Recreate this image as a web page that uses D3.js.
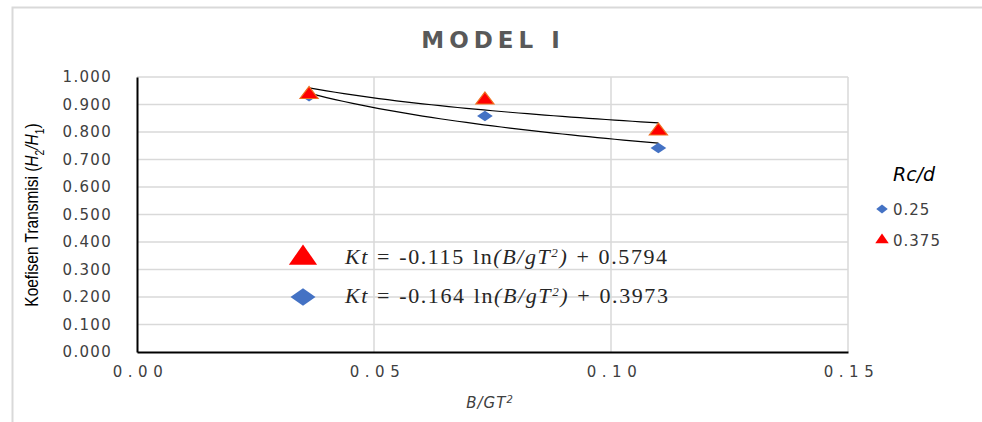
<!DOCTYPE html>
<html>
<head>
<meta charset="utf-8">
<script src="https://cdn.jsdelivr.net/npm/d3@7"></script>
<style>
  body { margin: 0; background: #fff; }
  svg text { font-family: "DejaVu Sans", Verdana, sans-serif; }
</style>
</head>
<body>
<div id="app"></div>
<script>
const xTicks = [0, 0.05, 0.10, 0.15];
const yTicks = [0, 0.1, 0.2, 0.3, 0.4, 0.5, 0.6, 0.7, 0.8, 0.9, 1.0];
const seriesNames = ['0.25', '0.375'];
const bgt = [0.0363, 0.0734, 0.1100];
const kt025 = [0.930, 0.858, 0.742];
const kt0375 = [0.940, 0.920, 0.807];
const slopes = [-0.164, -0.115];
const intercepts = [0.3973, 0.5794];
const colors = ['#4472c4', '#ff0000'];

const width = 982, height = 422;
const svg = d3.select('#app').append('svg')
  .attr('width', width).attr('height', height);

// chart border
svg.append('rect')
  .attr('x', 12.5).attr('y', 7.5).attr('width', 990).attr('height', 430)
  .attr('fill', 'none').attr('stroke', '#d9d9d9').attr('stroke-width', 2);

svg.append('text')
  .attr('x', 493).attr('y', 48)
  .attr('text-anchor', 'middle')
  .attr('fill', '#595959')
  .style('font-size', '23px').style('font-weight', 'bold').style('letter-spacing', '5px')
  .text('MODEL I');

const x = d3.scaleLinear().domain([0, 0.15]).range([137, 848]);
const y = d3.scaleLinear().domain([0, 1]).range([352, 77]);

// grid
svg.append('g').selectAll('line').data(yTicks.slice(1)).join('line')
  .attr('x1', x(0)).attr('x2', x(0.15))
  .attr('y1', d => y(d)).attr('y2', d => y(d))
  .attr('stroke', '#d9d9d9').attr('stroke-width', 1.5);
svg.append('g').selectAll('line').data(xTicks.slice(1)).join('line')
  .attr('x1', d => x(d)).attr('x2', d => x(d))
  .attr('y1', y(0)).attr('y2', y(1))
  .attr('stroke', '#d9d9d9').attr('stroke-width', 1.5);

// axes
const yAxis = d3.axisLeft(y).tickValues(yTicks).tickFormat(d3.format('.3f')).tickSize(0).tickPadding(25);
const gy = svg.append('g').attr('transform', `translate(${x(0)},0)`).call(yAxis);
gy.select('.domain').attr('stroke', '#000').attr('stroke-width', 2);
gy.selectAll('text').attr('fill', '#404040').style('font-size', '15px').style('letter-spacing', '1.3px');

const xAxis = d3.axisBottom(x).tickValues(xTicks).tickFormat(d3.format('.2f')).tickSize(0).tickPadding(14);
const gx = svg.append('g').attr('transform', `translate(0,${y(0)})`).call(xAxis);
gx.select('.domain').attr('stroke', '#000').attr('stroke-width', 2);
gx.selectAll('text').attr('fill', '#404040').style('font-size', '15px').style('letter-spacing', '5.5px')
  .attr('dx', '3px');

// axis titles
const yl = svg.append('text')
  .attr('transform', 'translate(38,215) rotate(-90) scale(0.86,1)')
  .attr('text-anchor', 'middle')
  .style('font-family', '"Liberation Sans", Arial, sans-serif')
  .style('font-size', '18px').attr('fill', '#000');
yl.append('tspan').text('Koefisen Transmisi (');
yl.append('tspan').style('font-style', 'italic').text('H');
yl.append('tspan').attr('baseline-shift', 'sub').style('font-size', '12px').text('2');
yl.append('tspan').style('font-style', 'italic').text('/H');
yl.append('tspan').attr('baseline-shift', 'sub').style('font-size', '12px').text('1');
yl.append('tspan').text(')');

const xl = svg.append('text')
  .attr('x', 490).attr('y', 408).attr('text-anchor', 'middle')
  .style('font-style', 'italic').style('font-size', '15px').style('letter-spacing', '1px')
  .attr('fill', '#404040');
xl.append('tspan').text('B/GT');
xl.append('tspan').attr('baseline-shift', 'super').style('font-size', '10px').text('2');

// trend lines
const line = d3.line().x(d => x(d[0])).y(d => y(d[1]));
slopes.forEach((s, i) => {
  const pts = d3.range(0, 41).map(k => {
    const v = bgt[0] + (bgt[2] - bgt[0]) * k / 40;
    return [v, s * Math.log(v) + intercepts[i]];
  });
  svg.append('path').datum(pts)
    .attr('d', line).attr('fill', 'none').attr('stroke', '#000').attr('stroke-width', 1.2);
});

// markers
const diamond = d3.symbol().type(d3.symbolDiamond2);
const tri = d3.symbol().type(d3.symbolTriangle);
svg.append('g').selectAll('path').data(bgt.map((b, i) => [b, kt025[i]])).join('path')
  .attr('transform', d => `translate(${x(d[0])},${y(d[1])}) scale(1.5,1)`)
  .attr('d', diamond.size(70)).attr('fill', colors[0]);
svg.append('g').selectAll('path').data(bgt.map((b, i) => [b, kt0375[i]])).join('path')
  .attr('transform', d => `translate(${x(d[0])},${y(d[1]) + 1}) scale(1.3,1)`)
  .attr('d', tri.size(85)).attr('fill', colors[1]).attr('stroke', '#f07020').attr('stroke-width', 1);

// equation annotations
const eqs = [
  { sym: tri, size: 240, sx: 1.2, col: colors[1], cy: 258, s: slopes[1], c: intercepts[1] },
  { sym: diamond, size: 190, sx: 1.45, col: colors[0], cy: 297, s: slopes[0], c: intercepts[0] }
];
eqs.forEach(e => {
  svg.append('path').attr('transform', `translate(303,${e.cy}) scale(${e.sx},1)`)
    .attr('d', e.sym.size(e.size)).attr('fill', e.col);
  const t = svg.append('text').attr('x', 345).attr('y', e.cy + 6)
    .style('font-family', '"Liberation Serif", "Times New Roman", serif')
    .style('font-size', '22px').style('letter-spacing', '1.6px').style('word-spacing', '1px')
    .attr('fill', '#262626');
  t.append('tspan').style('font-style', 'italic').text('Kt');
  t.append('tspan').text(` = ${e.s} ln`);
  t.append('tspan').style('font-style', 'italic').text('(B/gT');
  t.append('tspan').attr('baseline-shift', 'super').style('font-size', '13px').style('font-style', 'italic').text('2');
  t.append('tspan').style('font-style', 'italic').text(')');
  t.append('tspan').text(` + ${e.c}`);
});

// legend
svg.append('text').attr('x', 893).attr('y', 181)
  .style('font-style', 'italic').style('font-size', '19px').attr('fill', '#000').text('Rc/d');
const leg = svg.append('g').selectAll('g').data(seriesNames).join('g')
  .attr('transform', (d, i) => `translate(882,${209 + i * 31})`);
leg.append('path')
  .attr('transform', (d, i) => i === 0 ? 'scale(1.3,1)' : 'scale(1.2,1)')
  .attr('d', (d, i) => (i === 0 ? diamond.size(50) : tri.size(55))())
  .attr('fill', (d, i) => colors[i]);
leg.append('text').attr('x', 11).attr('y', 6)
  .style('font-size', '15px').style('letter-spacing', '1px').attr('fill', '#404040').text(d => d);
</script>
</body>
</html>
